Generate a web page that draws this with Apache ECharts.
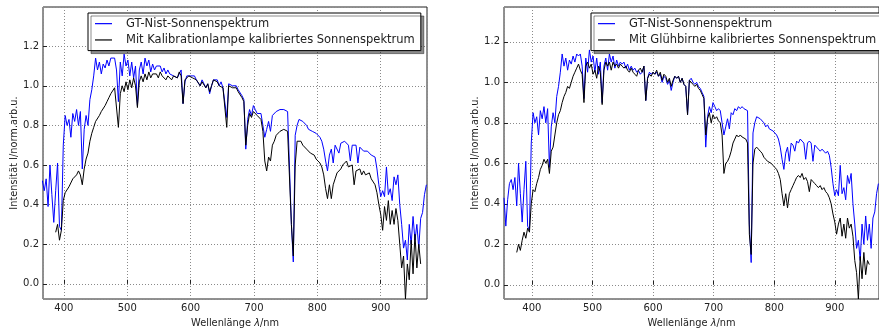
<!DOCTYPE html>
<html>
<head>
<meta charset="utf-8">
<script src="https://cdn.jsdelivr.net/npm/echarts@6/dist/echarts.min.js"></script>
<style>
  html, body { margin: 0; padding: 0; background: #fff; }
  #chart { width: 879px; height: 333px; }
</style>
</head>
<body>
<div id="chart"></div>
<script>
// Wavelength grid (nm) shared by all spectra
const wavelength = [
  354,357,360,363,366,369,372,375,378,381,
  384,387,390,393,396,399,402,405,408,411,
  414,417,420,423,426,429,432,435,438,441,
  444,447,450,453,456,459,462,465,468,471,
  474,477,480,483,486,489,492,495,498,501,
  504,507,510,513,516,519,522,525,528,531,
  534,537,540,543,546,549,552,555,558,561,
  564,567,570,573,576,579,582,585,588,591,
  594,597,600,603,606,609,612,615,618,621,
  624,627,630,633,636,639,642,645,648,651,
  654,657,660,663,666,669,672,675,678,681,
  684,687,690,693,696,699,702,705,708,711,
  714,717,720,723,726,729,732,735,738,741,
  744,747,750,753,756,759,762,765,768,771,
  774,777,780,783,786,789,792,795,798,801,
  804,807,810,813,816,819,822,825,828,831,
  834,837,840,843,846,849,852,855,858,861,
  864,867,870,873,876,879,882,885,888,891,
  894,897,900,903,906,909,912,915,918,921,
  924,927,930,933,936,939,942,945,948,951,
  954,957,960,963,966,969,972
];

// GT-Nist reference solar spectrum (normalised)
const nistSpectrum = [
  0.43,0.29,0.42,0.50,0.52,0.47,0.53,0.39,0.60,0.45,
  0.31,0.47,0.61,0.29,0.27,0.70,0.85,0.80,0.83,0.74,
  0.86,0.82,0.88,0.80,0.87,0.58,0.78,0.85,0.80,0.93,
  0.98,1.05,1.14,1.08,1.12,1.06,1.11,1.09,1.13,1.10,
  1.14,1.13,1.14,1.08,0.92,1.12,1.05,1.16,1.10,1.13,
  1.05,1.12,1.04,1.10,0.90,1.08,1.12,1.06,1.14,1.10,
  1.13,1.07,1.11,1.08,1.10,1.09,1.10,1.07,1.09,1.06,
  1.08,1.06,1.07,1.05,1.06,1.04,1.05,1.08,0.91,1.02,
  1.05,1.04,1.05,1.04,1.05,1.03,1.04,1.00,1.03,1.02,
  0.99,1.01,0.96,1.00,1.03,1.02,1.03,1.00,1.02,0.99,
  0.98,0.84,1.01,1.02,1.00,0.99,1.00,0.98,0.97,0.95,
  0.93,0.68,0.83,0.88,0.85,0.90,0.88,0.86,0.87,0.86,
  0.80,0.74,0.78,0.82,0.77,0.85,0.84,0.87,0.86,0.88,
  0.87,0.88,0.87,0.87,0.86,0.30,0.11,0.75,0.80,0.83,
  0.83,0.82,0.82,0.80,0.78,0.79,0.77,0.77,0.76,0.75,
  0.74,0.72,0.68,0.62,0.57,0.65,0.68,0.61,0.70,0.69,
  0.66,0.71,0.70,0.72,0.71,0.70,0.62,0.70,0.71,0.70,
  0.61,0.69,0.68,0.67,0.66,0.67,0.66,0.65,0.66,0.64,
  0.58,0.50,0.44,0.47,0.44,0.59,0.45,0.48,0.42,0.54,
  0.50,0.55,0.40,0.30,0.18,0.22,0.12,0.30,0.20,0.34,
  0.22,0.30,0.18,0.33,0.36,0.45,0.50
];

// Solar spectrum calibrated with the calibration lamp
const lampCalibrated = [
  null,null,null,null,null,null,null,null,null,null,
  null,0.26,0.30,0.22,0.27,0.42,0.46,0.47,0.49,0.50,
  0.53,0.54,0.55,0.57,0.55,0.50,0.58,0.63,0.66,0.72,
  0.76,0.79,0.82,0.83,0.85,0.87,0.88,0.90,0.92,0.94,
  0.96,0.97,0.99,0.98,0.79,0.96,1.00,0.97,1.02,0.98,
  1.03,0.99,1.04,1.00,0.89,1.02,1.05,1.02,1.06,1.03,
  1.07,1.04,1.06,1.05,1.06,1.04,1.07,1.05,1.04,1.03,
  1.05,1.04,1.03,1.05,1.06,1.04,1.07,1.05,0.91,1.03,
  1.04,1.05,1.05,1.04,1.05,1.03,1.03,1.00,1.02,1.02,
  0.99,1.01,0.97,1.00,1.03,1.02,1.02,1.00,1.01,0.99,
  0.98,0.79,1.00,1.01,0.99,0.98,0.99,0.97,0.96,0.94,
  0.92,0.70,0.80,0.86,0.84,0.87,0.86,0.85,0.84,0.83,
  0.77,0.62,0.57,0.64,0.62,0.70,0.72,0.75,0.76,0.77,
  0.78,0.78,0.77,0.77,0.76,0.30,0.14,0.60,0.72,0.73,
  0.72,0.70,0.69,0.68,0.67,0.66,0.66,0.65,0.63,0.64,
  0.61,0.59,0.55,0.48,0.43,0.50,0.43,0.50,0.53,0.56,
  0.57,0.58,0.60,0.59,0.62,0.59,0.58,0.60,0.50,0.57,
  0.56,0.58,0.55,0.57,0.55,0.54,0.56,0.53,0.52,0.50,
  0.46,0.40,0.35,0.27,0.39,0.32,0.42,0.30,0.37,0.30,
  0.38,0.32,0.20,0.08,0.14,-0.077,0.10,0.02,0.22,0.05,
  0.25,0.08,0.20,0.10,null,null,null
];

// Solar spectrum calibrated with the light bulb
const bulbCalibrated = [
  null,null,null,null,null,null,null,0.16,0.20,0.17,
  0.22,0.26,0.23,0.28,0.26,0.40,0.47,0.46,0.50,0.53,
  0.57,0.59,0.62,0.60,0.62,0.55,0.66,0.68,0.74,0.80,
  0.84,0.86,0.90,0.93,0.95,0.98,0.97,1.00,1.03,1.05,
  1.07,1.09,1.06,1.04,0.90,1.08,1.10,1.07,1.09,1.04,
  1.06,1.02,1.08,1.05,0.89,1.06,1.10,1.08,1.10,1.06,
  1.10,1.08,1.09,1.07,1.09,1.08,1.07,1.08,1.06,1.05,
  1.07,1.05,1.04,1.03,1.06,1.07,1.05,1.08,0.91,1.02,
  1.04,1.03,1.05,1.04,1.06,1.03,1.05,1.01,1.04,1.03,
  1.00,1.02,0.98,1.01,1.03,1.02,1.03,1.00,1.02,0.99,
  0.98,0.84,1.01,1.01,0.99,0.98,0.99,0.97,0.96,0.94,
  0.92,0.74,0.82,0.85,0.80,0.84,0.82,0.83,0.81,0.80,
  0.74,0.55,0.60,0.61,0.63,0.66,0.70,0.72,0.74,0.73,
  0.74,0.73,0.73,0.72,0.70,0.25,0.15,0.60,0.67,0.68,
  0.67,0.66,0.65,0.63,0.62,0.61,0.61,0.60,0.59,0.58,
  0.57,0.55,0.52,0.45,0.39,0.45,0.38,0.45,0.47,0.49,
  0.51,0.53,0.54,0.53,0.55,0.52,0.53,0.51,0.46,0.52,
  0.51,0.50,0.49,0.48,0.49,0.47,0.48,0.46,0.45,0.43,
  0.40,0.35,0.31,0.25,0.30,0.33,0.24,0.30,0.23,0.33,
  0.28,0.30,0.24,0.12,0.06,-0.07,0.14,0.03,0.16,0.05,
  0.12,0.10,null,null,null,null,null
];

const nistName = 'GT-Nist-Sonnenspektrum';
const lampName = 'Mit Kalibrationlampe kalibriertes Sonnenspektrum';
const bulbName = 'Mit Glühbirne kalibriertes Sonnenspektrum';
const xTitle = 'Wellenlänge {i|λ}/nm';
const yTitle = 'Intensität I/norm.arb.u.';

const pairs = (vals) => wavelength.map((w, i) => [w, vals[i]]);

const FONT = 'DejaVu Sans';
const TEXT = '#222';
const GRIDLINE = { show: true, lineStyle: { color: '#8a8a8a', type: [1, 2], width: 1 } };
const TICK = { show: true, inside: true, length: 4, lineStyle: { color: '#222', width: 1 } };

function xAxisFor(gridIndex, min, max) {
  return {
    type: 'value', gridIndex, min, max,
    minInterval: 100, maxInterval: 100,
    name: xTitle, nameLocation: 'middle', nameGap: 19,
    nameTextStyle: { fontFamily: FONT, fontSize: 9.8, color: TEXT,
      rich: { i: { fontFamily: FONT, fontStyle: 'italic', fontSize: 9.8, color: TEXT } } },
    axisLine: { show: false },
    axisTick: TICK,
    axisLabel: { show: true, margin: 4, fontFamily: FONT, fontSize: 10, color: TEXT,
      showMinLabel: false, showMaxLabel: false },
    splitLine: GRIDLINE
  };
}

function yAxisFor(gridIndex, min, max) {
  return {
    type: 'value', gridIndex, min, max,
    minInterval: 0.2, maxInterval: 0.2, splitNumber: 7,
    name: yTitle, nameLocation: 'middle', nameGap: 23, nameRotate: 90,
    nameTextStyle: { fontFamily: FONT, fontSize: 9.8, color: TEXT },
    axisLine: { show: false },
    axisTick: TICK,
    axisLabel: { show: true, margin: 4, fontFamily: FONT, fontSize: 10, color: TEXT,
      showMinLabel: false, showMaxLabel: false,
      formatter: (v) => v.toFixed(1) },
    splitLine: GRIDLINE
  };
}

function legendFor(left, names) {
  return {
    orient: 'vertical', left, top: 13,
    data: names,
    icon: 'rect', itemWidth: 17, itemHeight: 1.2, itemGap: 0,
    padding: [2.5, 6, 2.5, 7],
    backgroundColor: '#fff', borderColor: '#000', borderWidth: 1, borderRadius: 0,
    shadowColor: 'rgba(0,0,0,0.45)', shadowBlur: 0, shadowOffsetX: 3, shadowOffsetY: 3,
    selectedMode: false,
    textStyle: { fontFamily: FONT, fontSize: 11.5, color: TEXT, lineHeight: 16.3, padding: [0, 0, 0, 9] }
  };
}

function lineSeries(name, vals, color, idx) {
  return {
    type: 'line', name, data: pairs(vals),
    xAxisIndex: idx, yAxisIndex: idx,
    symbol: 'none', showSymbol: false, connectNulls: false,
    lineStyle: { color, width: 1 }, itemStyle: { color },
    animation: false, z: color === '#000000' ? 3 : 2
  };
}

const chart = echarts.init(document.getElementById('chart'), null, { renderer: 'canvas' });
chart.setOption({
  backgroundColor: '#fff',
  animation: false,
  grid: [
    { left: 43, top: 7, width: 384, height: 294, show: true, borderColor: '#222', borderWidth: 1, backgroundColor: 'transparent' },
    { left: 504, top: 7, width: 384, height: 294, show: true, borderColor: '#222', borderWidth: 1, backgroundColor: 'transparent' }
  ],
  xAxis: [ xAxisFor(0, 367, 973), xAxisFor(1, 354, 973) ],
  yAxis: [ yAxisFor(0, -0.077, 1.398), yAxisFor(1, -0.07, 1.372) ],
  legend: [ legendFor(88, [nistName, lampName]), legendFor(591, [nistName, bulbName]) ],
  series: [
    lineSeries(nistName, nistSpectrum, '#0000ff', 0),
    lineSeries(lampName, lampCalibrated, '#000000', 0),
    lineSeries(nistName, nistSpectrum, '#0000ff', 1),
    lineSeries(bulbName, bulbCalibrated, '#000000', 1)
  ]
});
</script>
</body>
</html>
